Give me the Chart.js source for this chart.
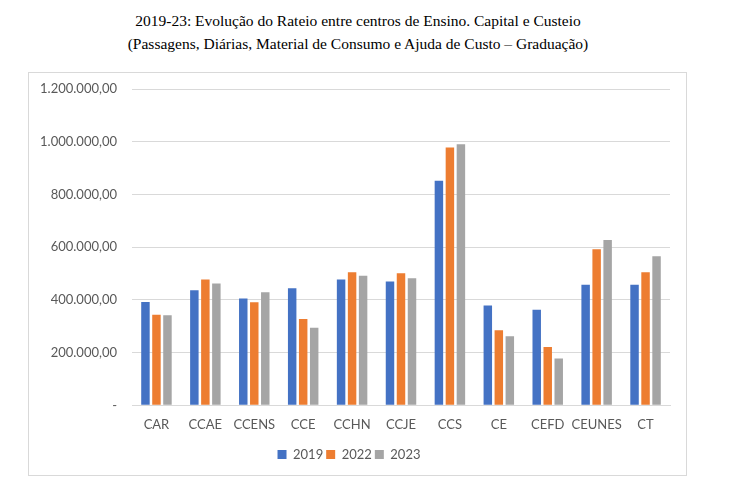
<!DOCTYPE html>
<html>
<head>
<meta charset="utf-8">
<script src="https://cdn.jsdelivr.net/npm/chart.js@4"></script>
<style>
  html, body { margin: 0; padding: 0; background: #fff; }
  body { width: 744px; height: 487px; position: relative; overflow: hidden; }
  .title { position: absolute; left: 0; width: 716px; text-align: center;
           font-family: "Liberation Serif", "Times New Roman", serif; font-size: 15.5px; color: #000; }
  #t1 { top: 12px; }
  #t2 { top: 35px; }
  #box { position: absolute; left: 28px; top: 72px; width: 657px; height: 402px;
         border: 1px solid #d9d9d9; }
  #wrap { position: absolute; left: 28px; top: 72px; width: 659px; height: 404px; }
</style>
</head>
<body>
<div class="title" id="t1">2019-23: Evolução do Rateio entre centros de Ensino. Capital e Custeio</div>
<div class="title" id="t2">(Passagens, Diárias, Material de Consumo e Ajuda de Custo – Graduação)</div>
<div id="box"></div>
<div id="wrap"><canvas id="c"></canvas></div>
<script>
const categories = ["CAR", "CCAE", "CCENS", "CCE", "CCHN", "CCJE", "CCS", "CE", "CEFD", "CEUNES", "CT"];
const seriesNames = ["2019", "2022", "2023"];
const values2019 = [392000, 437000, 405000, 444000, 477000, 470000, 852000, 379000, 363000, 457000, 457000];
const values2022 = [344000, 477000, 391000, 328000, 505000, 501000, 978000, 285000, 221000, 592000, 505000];
const values2023 = [342000, 462000, 429000, 294000, 492000, 482000, 990000, 262000, 178000, 627000, 566000];
const yTicks = [0, 200000, 400000, 600000, 800000, 1000000, 1200000];
const colors = ["#4472C4", "#ED7D31", "#A5A5A5"];

function fmt(v) {
  if (v === 0) return "-";
  const s = Math.round(v).toString().replace(/\B(?=(\d{3})+(?!\d))/g, ".");
  return s + ",00";
}

const font = { family: "Lato, 'Open Sans', sans-serif", size: 13 };
const xFont = { family: "Lato, 'Open Sans', sans-serif", size: 13, lineHeight: 1.05 };
const allVals = [values2019, values2022, values2023];

new Chart(document.getElementById("c"), {
  type: "bar",
  data: {
    labels: categories,
    datasets: seriesNames.map((n, i) => ({
      label: n,
      data: allVals[i],
      backgroundColor: colors[i],
      borderWidth: 0,
      categoryPercentage: 0.675,
      barPercentage: 0.77
    }))
  },
  options: {
    responsive: true,
    maintainAspectRatio: false,
    animation: false,
    layout: { padding: { top: 17, right: 17, bottom: 5, left: 0 } },
    plugins: {
      title: { display: false },
      tooltip: { enabled: false },
      legend: {
        position: "bottom",
        labels: {
          boxWidth: 9, boxHeight: 9, padding: 3,
          color: "#595959",
          font: font
        }
      }
    },
    scales: {
      x: {
        grid: { display: false, drawTicks: false },
        border: { display: true, color: "#d9d9d9", width: 1 },
        ticks: { color: "#595959", font: xFont, padding: 13, maxRotation: 0, minRotation: 0, autoSkip: false }
      },
      y: {
        min: 0, max: 1200000,
        afterBuildTicks: (s) => { s.ticks = yTicks.map(v => ({ value: v })); },
        afterFit: (s) => { s.width = 104; s.paddingTop = 0; s.paddingBottom = 0; },
        grid: { color: "#d9d9d9", drawTicks: false },
        border: { display: false },
        ticks: { color: "#595959", font: font, padding: 15, callback: (v) => fmt(v) }
      }
    }
  }
});
</script>
</body>
</html>
